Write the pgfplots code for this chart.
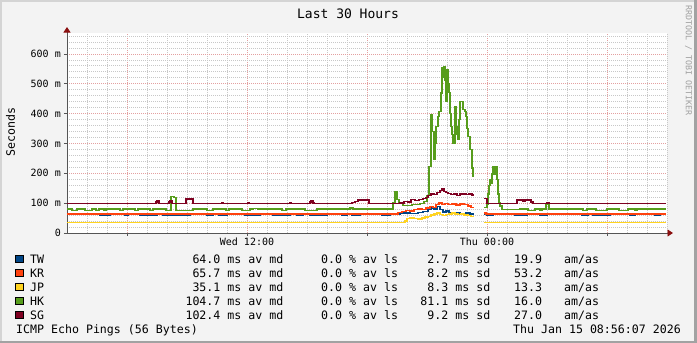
\documentclass[border=0pt]{standalone}
\usepackage{fontspec}
\setmainfont{DejaVu Sans Mono}
\usepackage{pgfplots}
\pgfplotsset{compat=1.18}
\usetikzlibrary{arrows.meta}
\definecolor{bgc}{HTML}{F3F3F3}
\definecolor{bordlight}{HTML}{D4D4D4}
\definecolor{borddark}{HTML}{A2A2A2}
\definecolor{twc}{HTML}{004586}
\definecolor{krc}{HTML}{FF420E}
\definecolor{jpc}{HTML}{FFD320}
\definecolor{hkc}{HTML}{579D1C}
\definecolor{sgc}{HTML}{7E0021}
\definecolor{mgrid}{HTML}{E4A0A0}
\definecolor{ngrid}{HTML}{C8C8C8}
\definecolor{axc}{HTML}{555555}
\definecolor{arrc}{HTML}{8B1010}
\definecolor{wmc}{HTML}{A0A0A0}
\newcommand{\legfont}{\fontsize{11.6}{12}\selectfont}
\newcommand{\legrow}[6]{%
  \draw[fill=#2, draw=black, line width=0.6pt] (15.5,#1-3.8) rectangle (23,#1+3.8);
  \node[anchor=base west, inner sep=0pt] at (30,#1+4.2) {\legfont #3};
  \node[anchor=base east, inner sep=0pt] at (283.5,#1+4.2) {\legfont #4 ms av md};
  \node[anchor=base west, inner sep=0pt] at (321,#1+4.2) {\legfont 0.0 \% av ls};
  \node[anchor=base east, inner sep=0pt] at (490.5,#1+4.2) {\legfont #5 ms sd};
  \node[anchor=base west, inner sep=0pt] at (514,#1+4.2) {\legfont #6};
  \node[anchor=base west, inner sep=0pt] at (564,#1+4.2) {\legfont am/as};
}
\begin{document}
\begin{tikzpicture}
\useasboundingbox (0,0) rectangle (697pt,343pt);
\fill[bgc] (0,0) rectangle (697pt,343pt);
\begin{scope}[x=1pt,y=-1pt,shift={(0,343pt)}]
  \fill[bordlight] (0,0) rectangle (697,2);
  \fill[bordlight] (0,0) rectangle (2,343);
  \fill[borddark] (694,0) rectangle (697,343);
  \fill[borddark] (0,341) rectangle (697,343);
\end{scope}
\begin{axis}[
  at={(67pt,110pt)}, anchor=south west,
  scale only axis, width=600pt, height=200pt,
  xmin=3, xmax=33, ymin=0, ymax=670,
  enlargelimits=false,
  axis background/.style={fill=white},
  axis x line=bottom, axis y line=left,
  x axis line style={axc, line width=0.9pt, shorten >=-6pt, -{Triangle[length=5.5pt,width=7pt,color=arrc]}},
  y axis line style={axc, line width=0.9pt, shorten >=-6pt, -{Triangle[length=5.5pt,width=7pt,color=arrc]}},
  xtick={6,12,18,24,30},
  xticklabels={,Wed 12:00,,Thu 00:00,},
  minor xtick={4,5,7,8,9,10,11,13,14,15,16,17,19,20,21,22,23,25,26,27,28,29,31,32,33},
  ytick={0,100,200,300,400,500,600},
  yticklabels={0,100 m,200 m,300 m,400 m,500 m,600 m},
  minor ytick={20,40,60,80,120,140,160,180,220,240,260,280,320,340,360,380,420,440,460,480,520,540,560,580,620,640,660},
  grid=both,
  major grid style={mgrid, line width=0.7pt, dash pattern=on 1pt off 1pt},
  minor grid style={ngrid, line width=0.7pt, dash pattern=on 1pt off 1pt},
  tick style={axc, line width=0.6pt},
  major tick length=3pt, minor tick length=0pt, tick align=outside,
  ticklabel style={font=\fontsize{10}{10}\selectfont, inner sep=0pt},
  xticklabel style={yshift=-2pt},
  yticklabel style={xshift=-3pt},
  unbounded coords=jump,
  every axis plot/.append style={const plot, line width=1.4pt, mark=none},
]
\addplot[twc] coordinates {(3.0,64)(4.65,60.5)(5.15,64)(5.9,60.5)(6.05,64)(6.65,60.5)(7.5,64)(7.8,60.5)(9.15,64)(10.0,60.5)(10.3,64)(10.6,60.5)(11.0,64)(11.9,60.5)(12.65,64)(13.3,60.5)(14.15,64)(14.5,60.5)(14.8,64)(15.15,60.5)(16.0,64)(16.75,60.5)(17.0,64)(17.25,60.5)(17.65,64)(18.75,60.5)(19.15,64)(19.65,67)(20.15,66)(20.55,68)(20.8,72)(21.05,78)(21.2,84)(21.35,80)(21.5,89)(21.65,78)(21.8,70)(21.95,74)(22.1,67)(22.4,68)(22.65,65)(22.95,67)(23.15,64)(23.35,64)(23.4,nan)(23.85,64)(24.0,60.5)(24.3,64)(25.4,60.5)(26.0,64)(26.65,60.5)(27.0,64)(28.75,60.5)(29.05,64)(29.3,60.5)(30.15,64)(31.15,60.5)(31.4,64)(32.4,60.5)(32.65,64)(32.95,64)};
\addplot[krc] coordinates {(3.0,64)(19.4,64)(19.55,68)(19.75,72)(19.95,76)(20.15,74)(20.35,78)(20.55,80)(20.75,78)(20.95,84)(21.15,89)(21.3,86)(21.45,95)(21.6,100)(21.75,96)(21.9,99)(22.05,95)(22.25,97)(22.45,94)(22.65,97)(22.85,95)(23.05,90)(23.2,86)(23.35,86)(23.4,nan)(23.85,67)(23.95,64)(32.95,64)};
\addplot[jpc] coordinates {(3.0,35.5)(19.9,40)(20.0,48)(20.15,50)(20.35,48)(20.55,47)(20.75,50)(20.9,54)(21.05,56)(21.2,60)(21.35,64)(21.5,67)(21.65,62)(21.8,58)(21.95,62)(22.1,64)(22.25,67)(22.4,64)(22.55,62)(22.7,63)(22.85,60)(23.05,58)(23.2,56)(23.35,56)(23.4,nan)(23.85,35.5)(32.95,35.5)};
\addplot[hkc] coordinates {(3.0,80)(3.25,76)(3.5,80)(3.9,76)(4.25,80)(4.45,76)(4.6,80)(4.85,76)(4.95,80)(5.65,76)(5.8,80)(6.4,76)(6.55,80)(7.15,76)(7.3,80)(7.95,76)(8.2,123)(8.35,118)(8.45,76)(9.3,80)(10.0,76)(10.3,80)(10.95,76)(11.1,80)(11.75,76)(12.15,80)(12.3,83)(12.55,80)(13.75,76)(13.95,80)(14.9,76)(15.5,80)(17.15,84)(17.3,80)(19.3,100)(19.4,140)(19.5,112)(19.6,98)(19.8,92)(20.25,95)(20.65,98)(20.85,105)(21.0,125)(21.1,223)(21.2,397)(21.25,340)(21.35,246)(21.4,300)(21.45,357)(21.55,390)(21.6,408)(21.7,469)(21.75,553)(21.8,520)(21.85,558)(21.9,513)(21.95,441)(22.0,547)(22.05,500)(22.1,470)(22.15,400)(22.2,357)(22.25,330)(22.3,302)(22.4,424)(22.45,357)(22.5,330)(22.55,313)(22.6,380)(22.65,441)(22.7,440)(22.8,413)(22.9,408)(22.95,390)(23.0,350)(23.05,324)(23.15,279)(23.25,218)(23.3,190)(23.35,190)(23.4,nan)(23.85,85)(24.0,95)(24.05,130)(24.1,160)(24.15,179)(24.2,165)(24.25,200)(24.3,223)(24.35,195)(24.4,210)(24.45,223)(24.5,180)(24.55,130)(24.6,100)(24.65,90)(24.75,78)(25.65,80)(26.05,76)(26.4,80)(26.65,76)(26.75,80)(26.95,95)(27.1,80)(28.8,76)(29.0,80)(29.45,76)(30.0,80)(30.6,76)(31.05,80)(31.4,76)(31.5,80)(32.95,80)};
\addplot[sgc] coordinates {(3.0,98)(7.45,104)(7.5,109)(7.6,98)(8.1,104)(8.15,109)(8.25,98)(8.95,114)(9.3,98)(10.75,101)(10.8,98)(12.05,101)(12.1,98)(14.15,101)(14.2,98)(15.15,104)(15.2,109)(15.3,101)(15.35,98)(17.25,102)(17.4,106)(17.55,110)(18.1,98)(19.65,100)(19.85,106)(20.05,104)(20.2,112)(20.4,108)(20.6,112)(20.8,116)(20.95,118)(21.05,126)(21.2,131)(21.35,128)(21.5,135)(21.65,142)(21.75,148)(21.85,140)(21.95,136)(22.05,132)(22.2,128)(22.35,130)(22.5,126)(22.65,130)(22.8,131)(22.95,128)(23.1,131)(23.25,127)(23.35,127)(23.4,nan)(23.85,115)(24.0,98)(25.5,111)(25.8,105)(25.9,111)(26.2,104)(26.3,98)(27.0,103)(27.1,98)(32.95,98)};
\end{axis}
\begin{scope}[x=1pt,y=-1pt,shift={(0,343pt)}]
  \node[anchor=base, inner sep=0pt] at (348,18.7) {\fontsize{13}{13}\selectfont Last 30 Hours};
  \node[rotate=90, inner sep=0pt] at (10.5,132) {\fontsize{11.6}{12}\selectfont Seconds};
  \node[rotate=-90, anchor=west, inner sep=0pt, text=wmc] at (688.5,5) {\fontsize{8.3}{9}\selectfont RRDTOOL / TOBI OETIKER};
  \legrow{259}{twc}{TW}{64.0}{2.7}{19.9}
  \legrow{273}{krc}{KR}{65.7}{8.2}{53.2}
  \legrow{287}{jpc}{JP}{35.1}{8.3}{13.3}
  \legrow{301}{hkc}{HK}{104.7}{81.1}{16.0}
  \legrow{315}{sgc}{SG}{102.4}{9.2}{27.0}
  \node[anchor=base west, inner sep=0pt] at (16,333.2) {\legfont ICMP Echo Pings (56 Bytes)};
  \node[anchor=base east, inner sep=0pt] at (681,333.2) {\legfont Thu Jan 15 08:56:07 2026};
\end{scope}
\end{tikzpicture}
\end{document}
